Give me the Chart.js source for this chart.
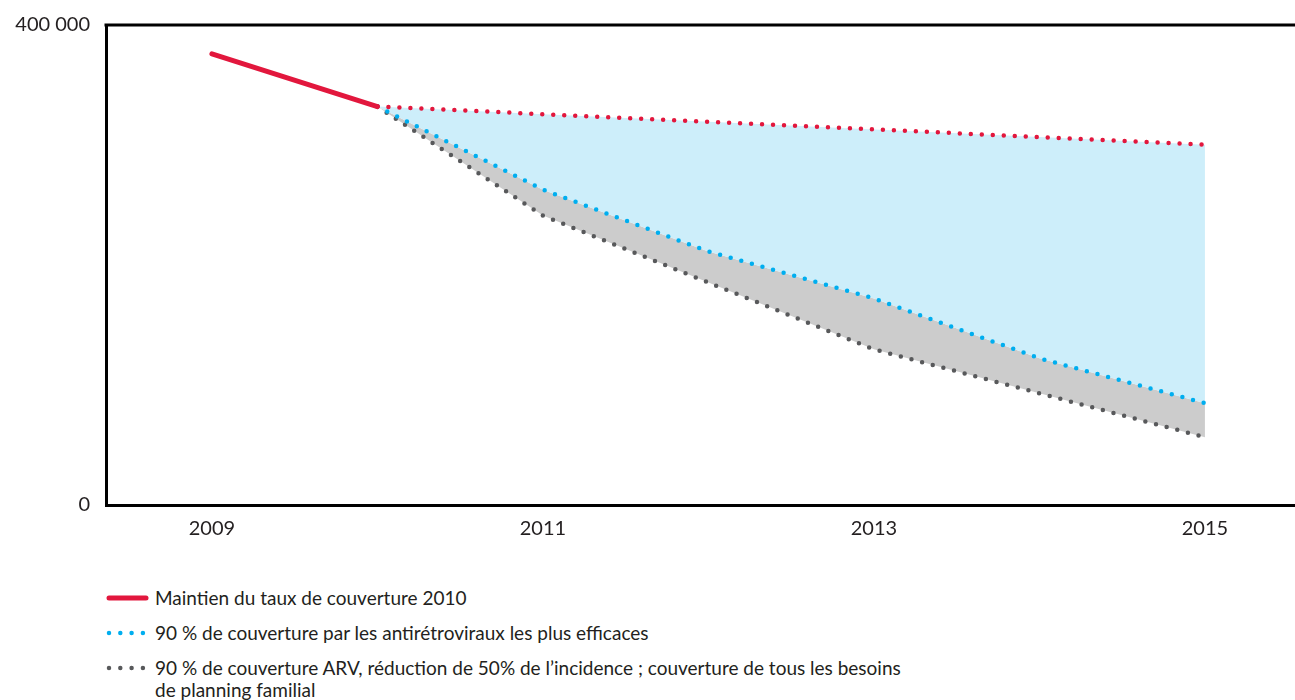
<!DOCTYPE html>
<html>
<head>
<meta charset="utf-8">
<script src="https://cdn.jsdelivr.net/npm/chart.js@4/dist/chart.umd.min.js"></script>
<style>
  html, body { margin: 0; padding: 0; background: #fff; }
  #wrap { position: relative; width: 1295px; height: 700px; overflow: hidden; font-family: Lato, "Open Sans", sans-serif; color: #231f20; }
  #chart { position: absolute; left: 0; top: -3px; }
  .leg { position: absolute; left: 106px; font-size: 19px; line-height: 22px; display: flex; align-items: flex-start; }
  .leg svg { flex: 0 0 auto; margin-top: 6px; }
  .leg span { margin-left: 5px; }
</style>
</head>
<body>
<div id="wrap">
  <canvas id="chart" width="1295" height="553"></canvas>
  <div id="legend"></div>
</div>
<script>
// ---- data ----
const years = [2009, 2010, 2011, 2012, 2013, 2014, 2015];
const xTickYears = [2009, 2011, 2013, 2015];
const yTickValues = [0, 400000];
const historique = [376000, 332000, null, null, null, null, null];
const maintien2010 = [null, 332000, 325700, 319400, 313000, 306600, 300200];
const arv90 = [null, 332000, 262800, 211200, 172100, 122200, 84800];
const arv90Pf = [null, 332000, 241200, 185400, 129700, 93100, 56500];
const labels = [
  "Maintien du taux de couverture 2010",
  "90 % de couverture par les antirétroviraux les plus efficaces",
  "90 % de couverture ARV, réduction de 50% de l’incidence ; couverture de tous les besoins de planning familial"
];

const RED = '#e2173d', BLUE = '#00aeef', GREY = '#58595b';
const FILL_BLUE = '#cdeefa', FILL_GREY = '#cccccc';

function pts(arr) {
  const out = [];
  arr.forEach((v, i) => { if (v !== null) out.push({ x: years[i], y: v }); });
  return out;
}
function fmt(v) { return String(v).replace(/\B(?=(\d{3})+(?!\d))/g, ' '); }

const topLine = {
  id: 'topLine',
  afterDatasetsDraw(chart) {
    const { ctx, chartArea } = chart;
    ctx.save();
    ctx.strokeStyle = '#000';
    ctx.lineWidth = 3;
    ctx.beginPath();
    ctx.moveTo(chartArea.left - 1.5, chartArea.top);
    ctx.lineTo(chartArea.right, chartArea.top);
    ctx.stroke();
    ctx.restore();
  }
};

const dotted = { borderWidth: 4.5, borderDash: [0, 11], borderCapStyle: 'round', pointRadius: 0, tension: 0 };

new Chart(document.getElementById('chart'), {
  type: 'line',
  data: {
    datasets: [
      { label: labels[0], data: pts(historique), borderColor: RED, borderWidth: 5, borderCapStyle: 'round', pointRadius: 0, fill: false },
      Object.assign({ label: labels[0] + ' (projection)', data: pts(maintien2010), borderColor: RED, backgroundColor: FILL_BLUE, fill: '+1' }, dotted),
      Object.assign({ label: labels[1], data: pts(arv90), borderColor: BLUE, backgroundColor: FILL_GREY, fill: '+1' }, dotted),
      Object.assign({ label: labels[2], data: pts(arv90Pf), borderColor: GREY, fill: false }, dotted)
    ]
  },
  options: {
    responsive: false,
    devicePixelRatio: 1,
    animation: false,
    layout: { padding: { top: 21, right: 0, left: 0, bottom: 0 } },
    plugins: {
      legend: { display: false },
      tooltip: { enabled: false },
      filler: { drawTime: 'beforeDatasetsDraw' }
    },
    scales: {
      x: {
        type: 'linear',
        min: 2008.36,
        max: 2015.544,
        afterBuildTicks: s => { s.ticks = xTickYears.map(v => ({ value: v })); },
        afterFit: s => { s.height = 45; },
        grid: { drawOnChartArea: false, drawTicks: false },
        border: { display: true, color: '#000', width: 3 },
        ticks: { color: '#231f20', font: { family: 'Lato', size: 20 }, padding: 12, maxRotation: 0, callback: v => String(v) }
      },
      y: {
        min: 0,
        max: 400000,
        afterBuildTicks: s => { s.ticks = yTickValues.map(v => ({ value: v })); },
        afterFit: s => { s.width = 106; },
        grid: { drawOnChartArea: false, drawTicks: false },
        border: { display: true, color: '#000', width: 3 },
        ticks: { color: '#231f20', font: { family: 'Lato', size: 20 }, padding: 16, callback: v => fmt(v) }
      }
    }
  },
  plugins: [topLine]
});

// ---- HTML legend ----
const legendItems = [
  { text: labels[0], color: RED, solid: true, top: 587 },
  { text: labels[1], color: BLUE, solid: false, top: 622 },
  { text: labels[2], color: GREY, solid: false, top: 657 }
];
const legend = document.getElementById('legend');
legendItems.forEach(it => {
  const d = document.createElement('div');
  d.className = 'leg';
  d.style.top = it.top + 'px';
  const line = it.solid
    ? `<line x1="3" y1="5" x2="40" y2="5" stroke="${it.color}" stroke-width="5" stroke-linecap="round"/>`
    : `<line x1="3" y1="5" x2="42" y2="5" stroke="${it.color}" stroke-width="4.5" stroke-linecap="round" stroke-dasharray="0 11.3"/>`;
  d.innerHTML = `<svg width="44" height="10">${line}</svg><span style="max-width:755px">${it.text}</span>`;
  legend.appendChild(d);
});
</script>
</body>
</html>
